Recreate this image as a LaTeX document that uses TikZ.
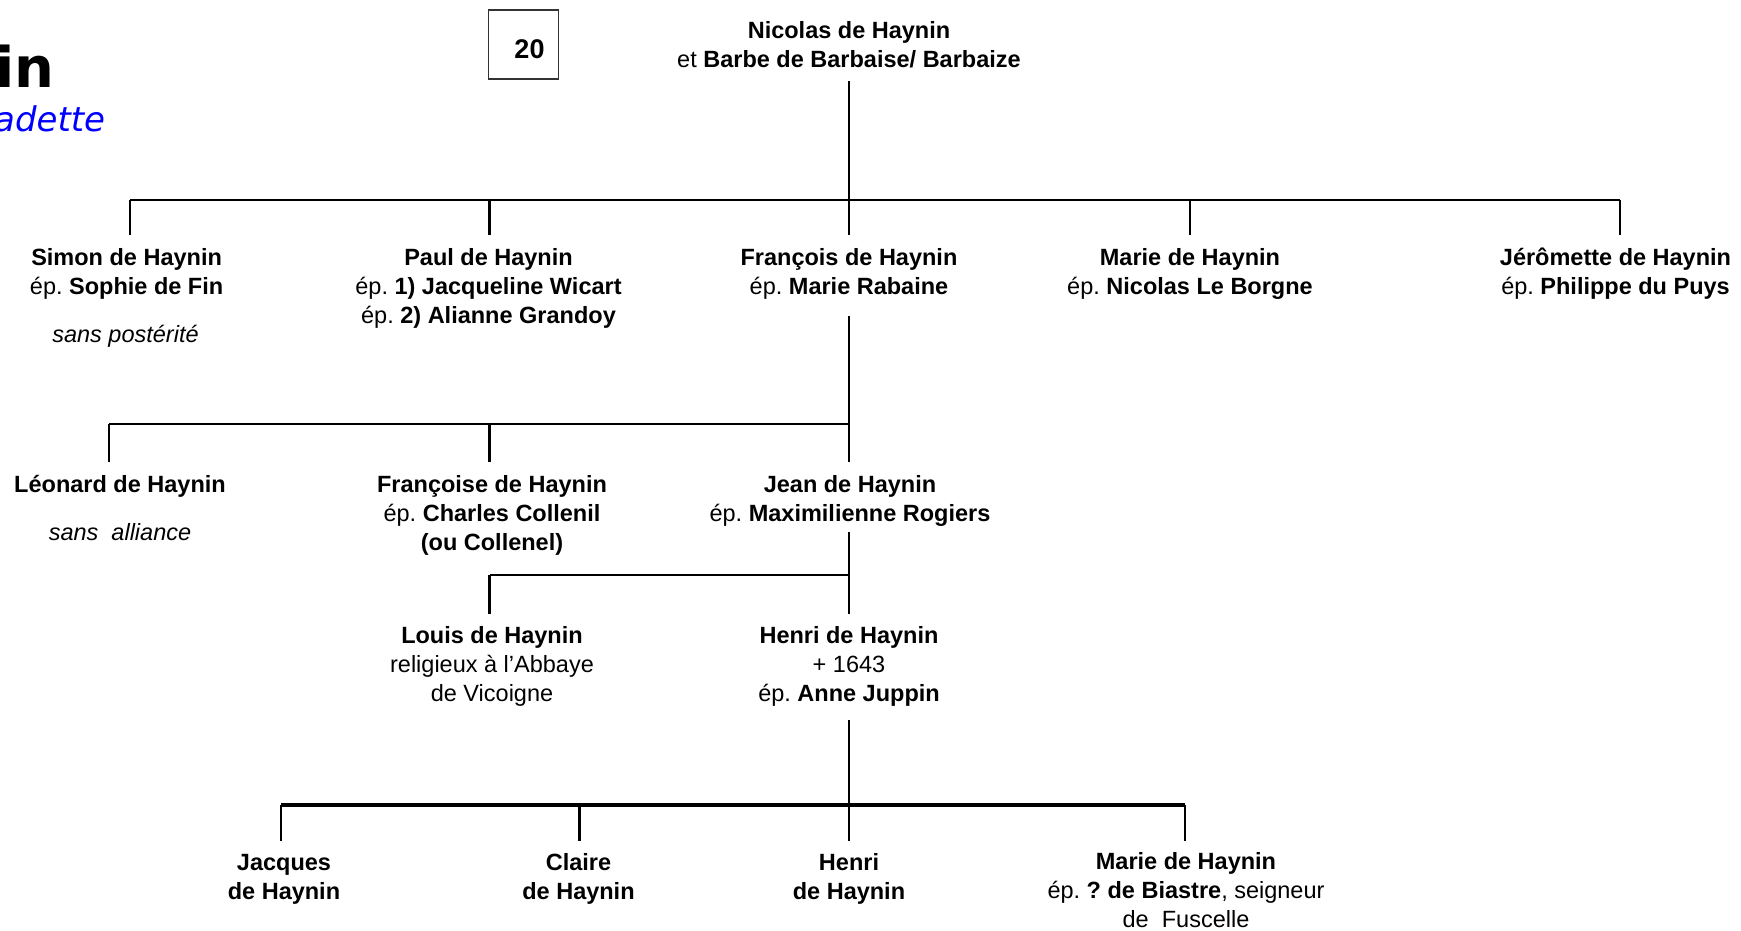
\documentclass[tikz,border=0pt]{standalone}
\usepackage{fontspec}
\setmainfont{Liberation Sans}
\newfontfamily\titlefont{DejaVu Sans}
\frenchspacing
\tikzset{
  person/.style={anchor=base, align=center, inner sep=0pt,
    font=\fontsize{23.5}{29}\selectfont},
  note/.style={person, font=\fontsize{23.5}{29}\selectfont\itshape},
  link/.style={line width=2.3pt},
  bar/.style={line width=2.6pt},
  numbox/.style={draw=black!80, line width=1.3pt, minimum width=70pt,
    minimum height=69pt, inner sep=0pt, font=\fontsize{27}{30}\selectfont\bfseries}
}
\begin{document}
\begin{tikzpicture}[x=1pt,y=-1pt]
\useasboundingbox (0,0) rectangle (1741,930);
% heading, cut at the left edge
\node[anchor=base west, inner sep=0pt, font=\fontsize{56}{64}\titlefont\bfseries] (titre) at (-5,87) {in};
\node[anchor=base west, inner sep=0pt, text=blue, font=\fontsize{34}{40}\titlefont\itshape] (soustitre) at (-6,131) {adette};
\node[numbox] (num) at (523.5,44.5) {\hspace*{12pt}\raisebox{-14pt}[0pt][0pt]{20}};
% generation 0 (nodes sit on the baseline of their last line)
\node[person] (nicolas) at (849,67.5) {\textbf{Nicolas de Haynin}\\et \textbf{Barbe de Barbaise/ Barbaize}};
% generation 1
\node[person] (simon) at (126.6,294) {\textbf{Simon de Haynin}\\ép. \textbf{Sophie de Fin}};
\node[note] (simonnote) at (125.5,342.5) {sans postérité};
\node[person] (paul) at (488.5,323) {\textbf{Paul de Haynin}\\ép. \textbf{1) Jacqueline Wicart}\\ép. \textbf{2) Alianne Grandoy}};
\node[person] (francois) at (849,294) {\textbf{François de Haynin}\\ép. \textbf{Marie Rabaine}};
\node[person] (marie) at (1190,294) {\textbf{Marie de Haynin}\\ép. \textbf{Nicolas Le Borgne}};
\node[person] (jeromette) at (1615.5,294) {\textbf{Jérômette de Haynin}\\ép. \textbf{Philippe du Puys}};
% generation 2
\node[person] (leonard) at (120,492.5) {\textbf{Léonard de Haynin}};
\node[note] (leonardnote) at (120,540) {sans\ \ alliance};
\node[person] (francoise) at (492,550.5) {\textbf{Françoise de Haynin}\\ép. \textbf{Charles Collenil}\\\textbf{(ou Collenel)}};
\node[person] (jean) at (850,521.5) {\textbf{Jean de Haynin}\\ép. \textbf{Maximilienne Rogiers}};
% generation 3
\node[person] (louis) at (492,701.5) {\textbf{Louis de Haynin}\\religieux à l’Abbaye\\de Vicoigne};
\node[person] (henri) at (849,701.5) {\textbf{Henri de Haynin}\\+ 1643\\ép. \textbf{Anne Juppin}};
% generation 4
\node[person] (jacques) at (284,899) {\textbf{Jacques}\\\textbf{de Haynin}};
\node[person] (claire) at (578.5,899) {\textbf{Claire}\\\textbf{de Haynin}};
\node[person] (henrifils) at (849,899) {\textbf{Henri}\\\textbf{de Haynin}};
\node[person] (mariefille) at (1186,927) {\textbf{Marie de Haynin}\\ép. \textbf{? de Biastre}, seigneur\\de\ \ Fuscelle};

% line ends
\coordinate (nicolas-b) at (849,81);
\coordinate (bar1) at (849,200);
\coordinate (simon-t) at (130,235.4);
\coordinate (paul-t) at (489.6,235.4);
\coordinate (francois-t) at (849,235.4);
\coordinate (marie-t) at (1190,235.4);
\coordinate (jeromette-t) at (1620,235.4);
\coordinate (francois-b) at (849,316.4);
\coordinate (bar2) at (849,424);
\coordinate (leonard-t) at (108.8,462);
\coordinate (francoise-t) at (489.6,462);
\coordinate (jean-t) at (849,462);
\coordinate (jean-b) at (849,532);
\coordinate (bar3) at (849,575);
\coordinate (louis-t) at (489.6,614);
\coordinate (henri-t) at (849,614);
\coordinate (henri-b) at (849,719.5);
\coordinate (bar4) at (849,805);
\coordinate (jacques-t) at (281,840.5);
\coordinate (claire-t) at (579.6,840.5);
\coordinate (henrifils-t) at (849,840.5);
\coordinate (mariefille-t) at (1184.7,840.5);

% children of Nicolas
\draw[link] (nicolas-b) -- (bar1);
\draw[bar] (simon-t |- bar1) -- (jeromette-t |- bar1);
\foreach \c in {simon,paul,francois,marie,jeromette}
  \draw[link] (\c-t |- bar1) -- (\c-t);
% children of François
\draw[link] (francois-b) -- (bar2);
\draw[bar] (leonard-t |- bar2) -- (bar2);
\foreach \c in {leonard,francoise,jean}
  \draw[link] (\c-t |- bar2) -- (\c-t);
% children of Jean
\draw[link] (jean-b) -- (bar3);
\draw[bar] (louis-t |- bar3) -- (bar3);
\foreach \c in {louis,henri}
  \draw[link] (\c-t |- bar3) -- (\c-t);
% children of Henri
\draw[link] (henri-b) -- (bar4);
\draw[bar, line width=3.4pt] (jacques-t |- bar4) -- (mariefille-t |- bar4);
\foreach \c in {jacques,claire,henrifils,mariefille}
  \draw[link] (\c-t |- bar4) -- (\c-t);
\end{tikzpicture}
\end{document}
